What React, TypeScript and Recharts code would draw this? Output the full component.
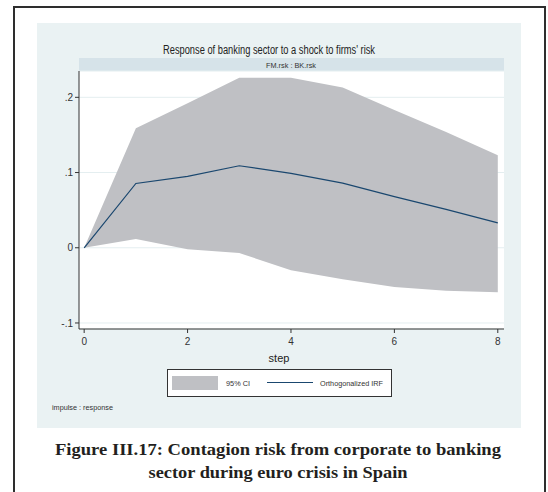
import React from 'react';
import { ComposedChart, Area, Line, XAxis, YAxis, CartesianGrid } from 'recharts';

// impulse response FM.rsk -> BK.rsk
const steps = [0, 1, 2, 3, 4, 5, 6, 7, 8];
const irf = [0, 0.0855, 0.095, 0.109, 0.099, 0.086, 0.068, 0.051, 0.033];
const ciUpper = [0, 0.159, 0.192, 0.226, 0.226, 0.213, 0.183, 0.154, 0.123];
const ciLower = [0, 0.0115, -0.002, -0.007, -0.03, -0.042, -0.052, -0.057, -0.059];
const xTicks = [0, 2, 4, 6, 8];
const yTicks = [-0.1, 0, 0.1, 0.2];
const yTickLabels = ['-.1', '0', '.1', '.2'];

const data = steps.map((s, i) => ({
    step: s,
    irf: irf[i],
    ci: [ciLower[i], ciUpper[i]],
}));

const SANS = '"Liberation Sans", Arial, sans-serif';
const SERIF = '"Liberation Serif", "Times New Roman", serif';
const NAVY = '#1a476f';
const CI_GREY = '#bfc0c4';

const App: React.FC = () => {
    const fmtY = (v: number) => {
        const i = yTicks.findIndex(t => Math.abs(t - v) < 1e-9);
        return i >= 0 ? yTickLabels[i] : String(v);
    };

    return (
        <div style={{ position: 'fixed', left: 0, top: 0, width: 548, height: 492, background: '#fff', overflow: 'hidden' }}>
            {/* outer frame */}
            <div style={{ position: 'absolute', left: 13, top: 6, width: 529, height: 520, border: '2px solid #2e2e2e' }} />
            {/* graph region */}
            <div style={{ position: 'absolute', left: 37, top: 23, width: 484, height: 405, background: '#eaf2f3' }} />
            {/* by-strip */}
            <div style={{ position: 'absolute', left: 79, top: 58, width: 425, height: 13, background: '#d6e3e9' }} />

            <div style={{ position: 'absolute', left: 0, top: 0 }}>
                <ComposedChart
                    width={548}
                    height={492}
                    data={data}
                    margin={{ top: 71, right: 44, bottom: 133, left: 0 }}
                >
                    <CartesianGrid vertical={false} stroke="#e4eef0" fill="#ffffff" />
                    <XAxis
                        dataKey="step"
                        type="number"
                        domain={[-0.1, 8.12]}
                        ticks={xTicks}
                        height={30}
                        tickSize={4}
                        tickMargin={5}
                        stroke="#333"
                        tick={{ fontSize: 10, fill: '#333', fontFamily: SANS }}
                    />
                    <YAxis
                        type="number"
                        domain={[-0.108, 0.235]}
                        ticks={yTicks}
                        width={79}
                        tickSize={4}
                        tickFormatter={fmtY}
                        stroke="#333"
                        tick={{ fontSize: 10, fill: '#333', fontFamily: SANS }}
                    />
                    <Area
                        dataKey="ci"
                        type="linear"
                        stroke="none"
                        fill={CI_GREY}
                        fillOpacity={1}
                        isAnimationActive={false}
                    />
                    <Line
                        dataKey="irf"
                        type="linear"
                        stroke={NAVY}
                        strokeWidth={1.2}
                        dot={false}
                        isAnimationActive={false}
                    />
                </ComposedChart>
            </div>

            {/* texts and legend */}
            <svg width={548} height={492} style={{ position: 'absolute', left: 0, top: 0, pointerEvents: 'none' }}>
                <text x={269} y={54} textAnchor="middle" fontFamily={SANS} fontSize={12} fill="#222"
                    textLength={212} lengthAdjust="spacingAndGlyphs">
                    Response of banking sector to a shock to firms' risk
                </text>
                <text x={291} y={67.5} textAnchor="middle" fontFamily={SANS} fontSize={8} fill="#333"
                    textLength={50} lengthAdjust="spacingAndGlyphs">
                    FM.rsk : BK.rsk
                </text>
                <text x={279} y={362} textAnchor="middle" fontFamily={SANS} fontSize={11} fill="#222">
                    step
                </text>

                <rect x={167.5} y={369.5} width={224} height={27} fill="#fff" stroke="#333" strokeWidth={1} />
                <rect x={172} y={376} width={46} height={14} fill={CI_GREY} />
                <text x={226} y={385.5} fontFamily={SANS} fontSize={8} fill="#333"
                    textLength={24} lengthAdjust="spacingAndGlyphs">
                    95% CI
                </text>
                <line x1={267} y1={382.5} x2={313} y2={382.5} stroke={NAVY} strokeWidth={1.2} />
                <text x={320} y={385.5} fontFamily={SANS} fontSize={8} fill="#333"
                    textLength={63} lengthAdjust="spacingAndGlyphs">
                    Orthogonalized IRF
                </text>

                <text x={52} y={410} fontFamily={SANS} fontSize={7.5} fill="#333"
                    textLength={61} lengthAdjust="spacingAndGlyphs">
                    impulse : response
                </text>

                <text x={278} y={455} textAnchor="middle" fontFamily={SERIF} fontWeight="bold" fontSize={16.5} fill="#231f20"
                    textLength={446} lengthAdjust="spacingAndGlyphs">
                    Figure III.17: Contagion risk from corporate to banking
                </text>
                <text x={278} y={478} textAnchor="middle" fontFamily={SERIF} fontWeight="bold" fontSize={16.5} fill="#231f20"
                    textLength={259} lengthAdjust="spacingAndGlyphs">
                    sector during euro crisis in Spain
                </text>
            </svg>
        </div>
    );
};

export default App;
